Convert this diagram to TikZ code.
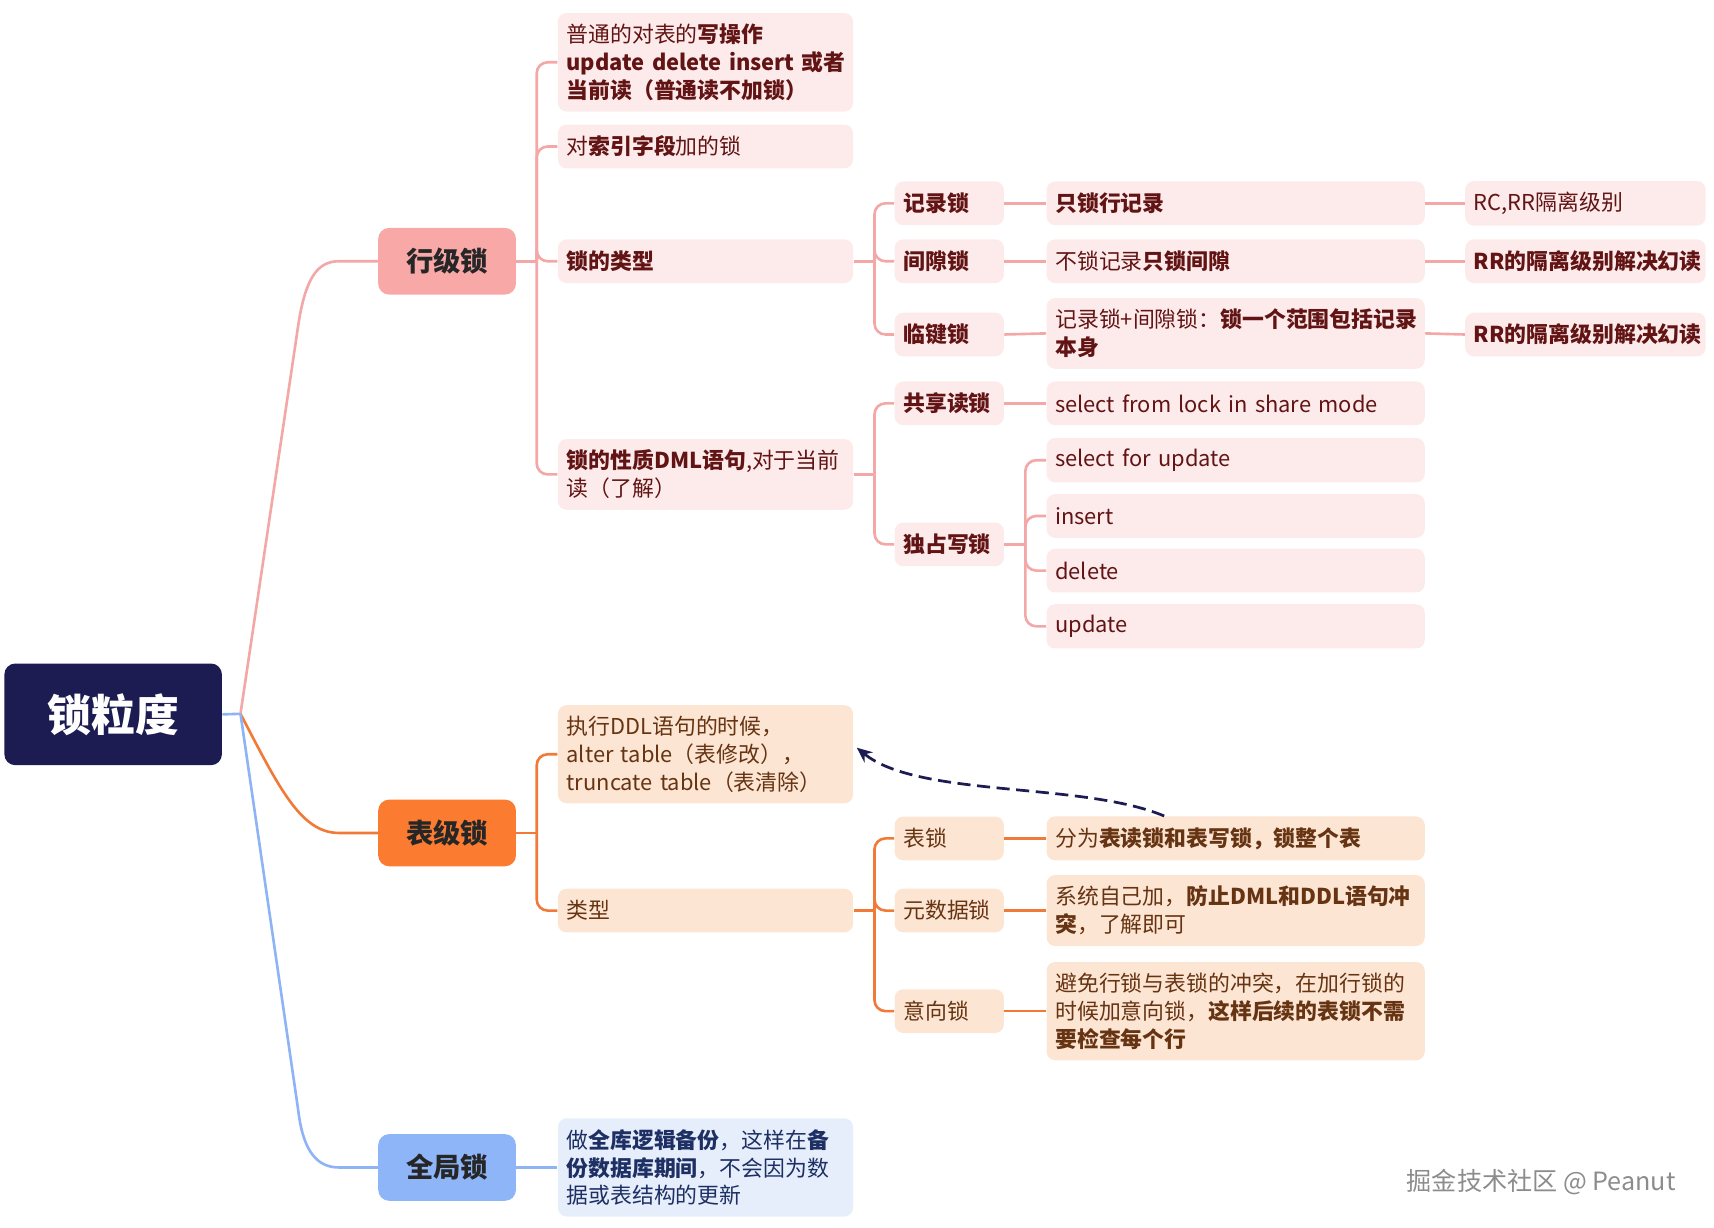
\documentclass[tikz,border=0pt]{standalone}
\usepackage{fontspec}
\setmainfont{Noto Sans CJK SC}
\usetikzlibrary{arrows.meta}

\definecolor{navy}{HTML}{1C1B52}
\definecolor{rowfill}{HTML}{F9A8A8}
\definecolor{rowleaf}{HTML}{FDEAEA}
\definecolor{rowtext}{HTML}{621414}
\definecolor{rowline}{HTML}{F4A7A7}
\definecolor{tblfill}{HTML}{FB7B31}
\definecolor{tblleaf}{HTML}{FDE5D3}
\definecolor{tbltext}{HTML}{663412}
\definecolor{tblline}{HTML}{F07B38}
\definecolor{glbfill}{HTML}{8EB5F8}
\definecolor{glbleaf}{HTML}{E6EEFC}
\definecolor{glbtext}{HTML}{1E2F63}
\definecolor{glbline}{HTML}{8FB4F6}

\begin{document}
\begin{tikzpicture}[x=0.5pt,y=-0.5pt,
  rootbox/.style={fill=navy,text=white,rounded corners=5pt,minimum width=99.5pt,minimum height=46.5pt,font=\fontsize{20}{24}\selectfont\bfseries},
  topbox/.style={rounded corners=5pt,minimum width=63pt,minimum height=30.5pt,text=black!85,font=\fontsize{12.5}{15}\selectfont\bfseries},
  box/.style={rounded corners=4pt,inner xsep=4pt,inner ysep=5pt,minimum height=20pt,anchor=west,align=left,font=\fontsize{10}{12.75}\selectfont},
  rowbox/.style={box,fill=rowleaf,text=rowtext},
  tblbox/.style={box,fill=tblleaf,text=tbltext},
  glbbox/.style={box,fill=glbleaf,text=glbtext},
  leafw/.style={text width=127pt},
  tagw/.style={text width=42pt},
  descw/.style={text width=165pt},
  notew/.style={text width=102pt},
  rowln/.style={draw=rowline,line width=1.2pt,rounded corners=5pt},
  tblln/.style={draw=tblline,line width=1.2pt,rounded corners=5pt},
  glbln/.style={draw=glbline,line width=1.2pt,rounded corners=5pt},
  forkto/.style={to path={|- (\tikztotarget)}},
  dasharr/.style={draw=navy,line width=1.25pt,dash pattern=on 6pt off 3pt,-{Stealth[length=7pt,width=6pt]}}]
\useasboundingbox (0,0) rectangle (1568,1123);

% root and first level
\node[rootbox] (root) at (103.5,653.5) {锁粒度};
\node[topbox,fill=rowfill] (row) at (409,239) {行级锁};
\node[topbox,fill=tblfill] (tbl) at (409,762) {表级锁};
\node[topbox,fill=glbfill] (glb) at (409,1068) {全局锁};

\coordinate (rootj) at (220,653);
\draw[glbln] (root.east) -- (rootj);
\draw[rowln] (rootj) -- (271,310) .. controls (279,255) and (290,239) .. (320,239) -- (row.west);
\draw[tblln] (rootj) .. controls (255,720) and (275,762) .. (320,762) -- (tbl.west);
\draw[glbln] (rootj) -- (272,1010) .. controls (278,1053) and (290,1068) .. (320,1068) -- (glb.west);

% row level locks
\node[rowbox,leafw] (r1) at (510,57) {普通的对表的\textbf{写操作}\\\mbox{\textbf{update delete insert 或者}}\\\textbf{当前读（普通读不加锁）}};
\node[rowbox,leafw] (r2) at (510,134) {对\textbf{索引字段}加的锁};
\node[rowbox,leafw] (r3) at (510,239) {\textbf{锁的类型}};
\node[rowbox,leafw] (r4) at (510,434) {\textbf{锁的性质DML语句},对于当前\\读（了解）};

\node[rowbox,tagw] (rec) at (818,186) {\textbf{记录锁}};
\node[rowbox,tagw] (gap) at (818,239) {\textbf{间隙锁}};
\node[rowbox,tagw] (nxk) at (818,306) {\textbf{临键锁}};
\node[rowbox,tagw] (shr) at (818,369) {\textbf{共享读锁}};
\node[rowbox,tagw] (exc) at (818,498) {\textbf{独占写锁}};

\node[rowbox,descw] (recd) at (957,186) {\textbf{只锁行记录}};
\node[rowbox,descw] (gapd) at (957,239) {不锁记录\textbf{只锁间隙}};
\node[rowbox,descw] (nxkd) at (957,305) {记录锁+间隙锁：\textbf{锁一个范围包括记录}\\\textbf{本身}};
\node[rowbox,descw] (shrd) at (957,369) {select from lock in share mode};
\node[rowbox,descw] (ex1) at (957,421) {select for update};
\node[rowbox,descw] (ex2) at (957,472) {insert};
\node[rowbox,descw] (ex3) at (957,522) {delete};
\node[rowbox,descw] (ex4) at (957,573) {update};

\node[rowbox,notew] (recl) at (1340,186) {RC,RR隔离级别};
\node[rowbox,notew] (gapl) at (1340,239) {\textbf{RR的隔离级别解决幻读}};
\node[rowbox,notew] (nxkl) at (1340,306) {\textbf{RR的隔离级别解决幻读}};

\coordinate (rowj) at (491,239);
\draw[rowln] (row.east) -- (rowj);
\path[rowln] (rowj) edge[forkto] (r1.west) edge[forkto] (r2.west)
  edge[forkto] (r3.west) edge[forkto] (r4.west);
\coordinate (typj) at (800,239);
\draw[rowln] (r3.east) -- (typj);
\path[rowln] (typj) edge[forkto] (rec.west) edge[forkto] (gap.west) edge[forkto] (nxk.west);
\coordinate (natj) at (800,434);
\draw[rowln] (r4.east) -- (natj);
\path[rowln] (natj) edge[forkto] (shr.west) edge[forkto] (exc.west);
\coordinate (excj) at (938,498);
\draw[rowln] (exc.east) -- (excj);
\path[rowln] (excj) edge[forkto] (ex1.west) edge[forkto] (ex2.west)
  edge[forkto] (ex3.west) edge[forkto] (ex4.west);
\path[rowln] (rec.east) edge (recd.west) (gap.east) edge (gapd.west)
  (nxk.east) edge (nxkd.west) (shr.east) edge (shrd.west)
  (recd.east) edge (recl.west) (gapd.east) edge (gapl.west) (nxkd.east) edge (nxkl.west);

% table level locks
\node[tblbox,leafw] (t1) at (510,690) {执行DDL语句的时候，\\alter table（表修改），\\truncate table（表清除）};
\node[tblbox,leafw] (t2) at (510,833) {类型};
\node[tblbox,tagw] (tlk) at (818,767) {表锁};
\node[tblbox,tagw] (mdl) at (818,833) {元数据锁};
\node[tblbox,tagw] (itl) at (818,925) {意向锁};
\node[tblbox,descw] (tlkd) at (957,767) {分为\textbf{表读锁和表写锁，锁整个表}};
\node[tblbox,descw] (mdld) at (957,833) {系统自己加，\textbf{防止DML和DDL语句冲}\\\textbf{突}，了解即可};
\node[tblbox,descw] (itld) at (957,925) {避免行锁与表锁的冲突，在加行锁的\\时候加意向锁，\textbf{这样后续的表锁不需}\\\textbf{要检查每个行}};

\coordinate (tblj) at (491,762);
\draw[tblln] (tbl.east) -- (tblj);
\path[tblln] (tblj) edge[forkto] (t1.west) edge[forkto] (t2.west);
\coordinate (tcj) at (800,833);
\draw[tblln] (t2.east) -- (tcj);
\path[tblln] (tcj) edge[forkto] (tlk.west) edge[forkto] (mdl.west) edge[forkto] (itl.west);
\path[tblln] (tlk.east) edge (tlkd.west) (mdl.east) edge (mdld.west) (itl.east) edge (itld.west);

\draw[dasharr] (tlkd.north west) ++(108,0) .. controls (990,715) and (840,730) .. ([shift={(3,-6)}]t1.east);

% global lock
\node[glbbox,leafw] (g1) at (510,1068) {做\textbf{全库逻辑备份}，这样在\textbf{备}\\\textbf{份数据库期间}，不会因为数\\据或表结构的更新};
\draw[glbln] (glb.east) -- (g1.west);

\node[anchor=east,text=black!45,font=\fontsize{11.5}{14}\selectfont] (mark) at (1540,1081) {掘金技术社区 @ Peanut};
\end{tikzpicture}
\end{document}
